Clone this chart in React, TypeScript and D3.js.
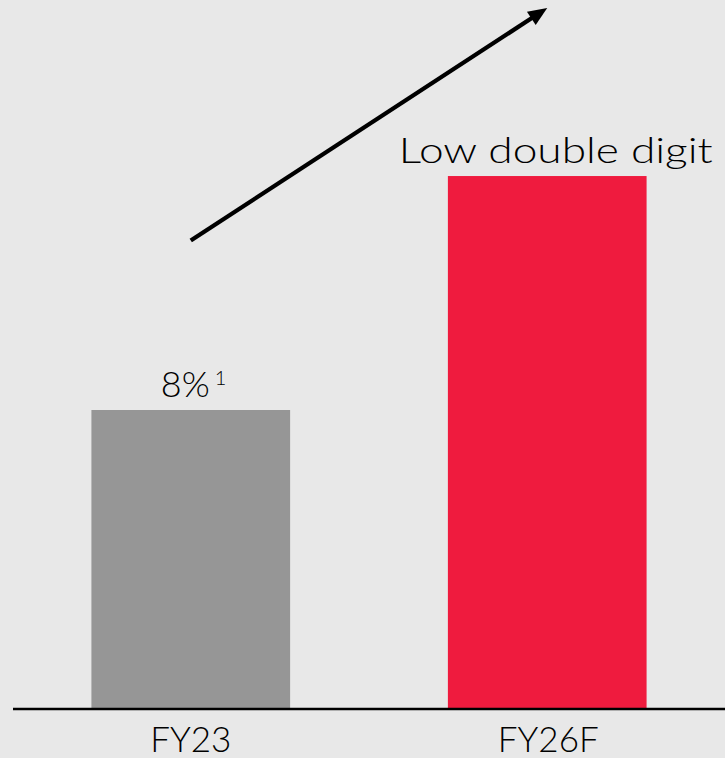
import React from "react";
import * as d3 from "d3";

const categories = ["FY23", "FY26F"];
const values = [8, 14.26];
const valueLabels = ["8%", "Low double digit"];
const footnotes = ["1", ""];
const barColors = ["#969696", "#ef1b3e"];

const W = 725;
const H = 758;
const FONT = "Lato, 'DejaVu Sans', sans-serif";

export default function App() {
  const x = d3
    .scaleBand<string>()
    .domain(categories)
    .range([13, 725])
    .paddingInner(0.4426)
    .paddingOuter(0.22);
  const y = d3.scaleLinear().domain([0, 8]).range([709, 410]);

  // arrow from first bar centre to second bar centre
  const x0 = (x(categories[0]) as number) + x.bandwidth() / 2;
  const x1 = (x(categories[1]) as number) + x.bandwidth() / 2;
  const ax0 = x0;
  const ay0 = 240.5;
  const ax1 = x1;
  const ay1 = 8;
  const ang = Math.atan2(ay1 - ay0, ax1 - ax0);
  const headLen = 19;
  const headHalf = 8;
  const bx = ax1 - headLen * Math.cos(ang);
  const by = ay1 - headLen * Math.sin(ang);
  const px = -Math.sin(ang);
  const py = Math.cos(ang);
  const head = [
    [ax1, ay1],
    [bx + px * headHalf, by + py * headHalf],
    [bx - px * headHalf, by - py * headHalf],
  ];

  return (
    <svg
      width={W}
      height={H}
      style={{ position: "absolute", top: 0, left: 0, display: "block" }}
    >
      <rect x={0} y={0} width={W} height={H} fill="#e8e8e8" />
      {categories.map((c, i) => {
        const bx0 = x(c) as number;
        const cx = bx0 + x.bandwidth() / 2;
        const top = y(values[i]);
        return (
          <g key={c}>
            <rect
              x={bx0}
              y={top}
              width={x.bandwidth()}
              height={y(0) - top}
              fill={barColors[i]}
            />
            <text
              x={cx + i}
              y={752}
              textAnchor="middle"
              fontFamily={FONT}
              fontWeight={300}
              fontSize={35}
              fill="#000"
            >
              {c}
            </text>
            {footnotes[i] ? (
              <text
                x={cx - 30}
                y={top - 13.3}
                fontFamily={FONT}
                fontWeight={300}
                fontSize={36}
                fill="#000"
              >
                {valueLabels[i]}
                <tspan dx={5} dy={-11.5} fontSize={20}>
                  {footnotes[i]}
                </tspan>
              </text>
            ) : (
              <text
                x={cx + 8.5}
                y={top - 13.3}
                textAnchor="middle"
                fontFamily={FONT}
                fontWeight={300}
                fontSize={36}
                fill="#000"
                textLength={314}
                lengthAdjust="spacingAndGlyphs"
              >
                {valueLabels[i]}
              </text>
            )}
          </g>
        );
      })}
      <line x1={13} x2={W} y1={y(0)} y2={y(0)} stroke="#000" strokeWidth={2.4} />
      <line
        x1={ax0}
        y1={ay0}
        x2={bx + Math.cos(ang) * 2}
        y2={by + Math.sin(ang) * 2}
        stroke="#000"
        strokeWidth={4.3}
      />
      <polygon points={head.map((p) => p.join(",")).join(" ")} fill="#000" />
    </svg>
  );
}
